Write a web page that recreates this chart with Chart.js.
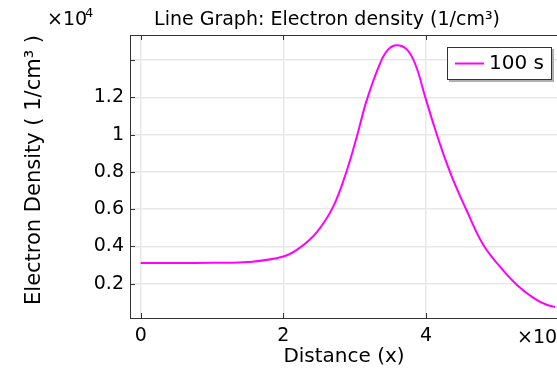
<!DOCTYPE html>
<html>
<head>
<meta charset="utf-8">
<script src="https://cdn.jsdelivr.net/npm/chart.js@4.4.0/dist/chart.umd.min.js"></script>
<style>
  html, body { margin: 0; padding: 0; overflow: hidden; background: #fff; }
</style>
</head>
<body>
<canvas id="chart" width="654" height="373"></canvas>
<script>
// values (y in units of 1e4 1/cm^3)
const distance = [0, 0.5, 1.0, 1.5, 2.0, 2.23, 2.47, 2.70, 2.89, 3.03, 3.17, 3.36, 3.47, 3.59, 3.73, 3.85, 3.99, 4.10, 4.24, 4.38, 4.57, 4.80, 5.04, 5.27, 5.51, 5.69, 5.81];
const density = [0.311, 0.311, 0.312, 0.316, 0.346, 0.393, 0.477, 0.615, 0.808, 0.99, 1.187, 1.387, 1.458, 1.48, 1.458, 1.378, 1.20, 1.062, 0.90, 0.758, 0.593, 0.410, 0.290, 0.195, 0.123, 0.087, 0.075];
const seriesLabel = '100 s';

const yTicks = [0.2, 0.4, 0.6, 0.8, 1, 1.2, 1.4];
const yTickLabels = ['0.2', '0.4', '0.6', '0.8', '1', '1.2', ''];
const xTicks = [0, 2, 4];
const xTickLabels = ['0', '2', '4'];

const FONT = 'DejaVu Sans';
Chart.defaults.font.family = FONT;
Chart.defaults.color = '#000';

// frame, inward ticks, multipliers, titles and the boxed legend
const overlay = {
    id: 'overlay',
    afterDraw(chart) {
        const { ctx, chartArea: a, scales: { x, y } } = chart;
        ctx.save();
        ctx.strokeStyle = '#333';
        ctx.lineWidth = 1;
        ctx.beginPath();
        ctx.moveTo(a.left, a.top + 0.5);
        ctx.lineTo(a.right, a.top + 0.5);
        yTicks.forEach(v => {
            const py = Math.round(y.getPixelForValue(v)) + 0.5;
            ctx.moveTo(a.left, py);
            ctx.lineTo(a.left + 5, py);
        });
        xTicks.forEach(v => {
            const px = Math.round(x.getPixelForValue(v)) + 0.5;
            ctx.moveTo(px, a.bottom);
            ctx.lineTo(px, a.bottom - 5);
            ctx.moveTo(px, a.top);
            ctx.lineTo(px, a.top + 5);
        });
        ctx.stroke();

        ctx.fillStyle = '#000';
        ctx.textBaseline = 'alphabetic';

        // chart title
        ctx.font = '19px "' + FONT + '"';
        ctx.textAlign = 'center';
        ctx.fillText('Line Graph: Electron density (1/cm³)', 327, 25);

        // y axis title
        ctx.save();
        ctx.translate(40, 170);
        ctx.rotate(-Math.PI / 2);
        ctx.font = '21px "' + FONT + '"';
        ctx.fillText('Electron Density ( 1/cm³ )', 0, 0);
        ctx.restore();

        // y multiplier
        ctx.textAlign = 'left';
        ctx.font = '19px "' + FONT + '"';
        ctx.fillText('×10', a.left - 83, a.top - 10);
        ctx.font = '13px "' + FONT + '"';
        ctx.fillText('4', a.left - 45, a.top - 18);

        // x multiplier (cut by the window edge like the reference)
        ctx.font = '19px "' + FONT + '"';
        ctx.fillText('×10', a.right - 41, a.bottom + 25);
        ctx.font = '13px "' + FONT + '"';
        ctx.fillText('-4', a.right + 2, a.bottom + 17);

        // legend box with shadow
        const ds = chart.data.datasets[0];
        const lw = 105, lh = 33;
        const lx = a.right - 111, ly = a.top + 12;
        ctx.fillStyle = '#b0b0b0';
        ctx.fillRect(lx + 2, ly + 2, lw, lh);
        ctx.fillStyle = '#fff';
        ctx.fillRect(lx, ly, lw, lh);
        ctx.strokeStyle = '#333';
        ctx.strokeRect(lx + 0.5, ly + 0.5, lw - 1, lh - 1);
        ctx.strokeStyle = ds.borderColor;
        ctx.lineWidth = 2;
        ctx.beginPath();
        ctx.moveTo(lx + 8, ly + 16.5);
        ctx.lineTo(lx + 37, ly + 16.5);
        ctx.stroke();
        ctx.fillStyle = '#000';
        ctx.font = '20px "' + FONT + '"';
        ctx.textBaseline = 'middle';
        ctx.fillText(ds.label, lx + 42, ly + 17);
        ctx.restore();
    }
};

new Chart(document.getElementById('chart'), {
    type: 'scatter',
    data: {
        datasets: [{
            label: seriesLabel,
            data: distance.map((d, i) => ({ x: d, y: density[i] })),
            showLine: true,
            borderColor: '#ff00ff',
            borderWidth: 2,
            pointRadius: 0,
            tension: 0.4
        }]
    },
    options: {
        responsive: false,
        animation: false,
        layout: { padding: { left: 10, right: 96, top: 35, bottom: 0 } },
        plugins: {
            legend: { display: false },
            title: { display: false },
            tooltip: { enabled: false }
        },
        scales: {
            x: {
                type: 'linear',
                min: -0.15,
                max: 5.85,
                afterBuildTicks: s => { s.ticks = xTicks.map(v => ({ value: v })); },
                afterFit: s => { s.height = 55; },
                ticks: {
                    font: { size: 19 },
                    padding: 7,
                    maxRotation: 0,
                    autoSkip: false,
                    callback: v => xTickLabels[xTicks.indexOf(v)]
                },
                grid: { color: '#e8e8e8', lineWidth: 1.5, drawTicks: false },
                border: { color: '#333', width: 1 },
                title: { display: true, text: 'Distance (x)', font: { size: 20 }, padding: { top: 0 } }
            },
            y: {
                min: 0.016,
                max: 1.535,
                afterBuildTicks: s => { s.ticks = yTicks.map(v => ({ value: v })); },
                afterFit: s => { s.width = 120; },
                ticks: {
                    font: { size: 19 },
                    padding: 6,
                    autoSkip: false,
                    callback: v => yTickLabels[yTicks.indexOf(v)]
                },
                grid: { color: '#e8e8e8', lineWidth: 1.5, drawTicks: false },
                border: { color: '#333', width: 1 }
            }
        }
    },
    plugins: [overlay]
});
</script>
</body>
</html>
